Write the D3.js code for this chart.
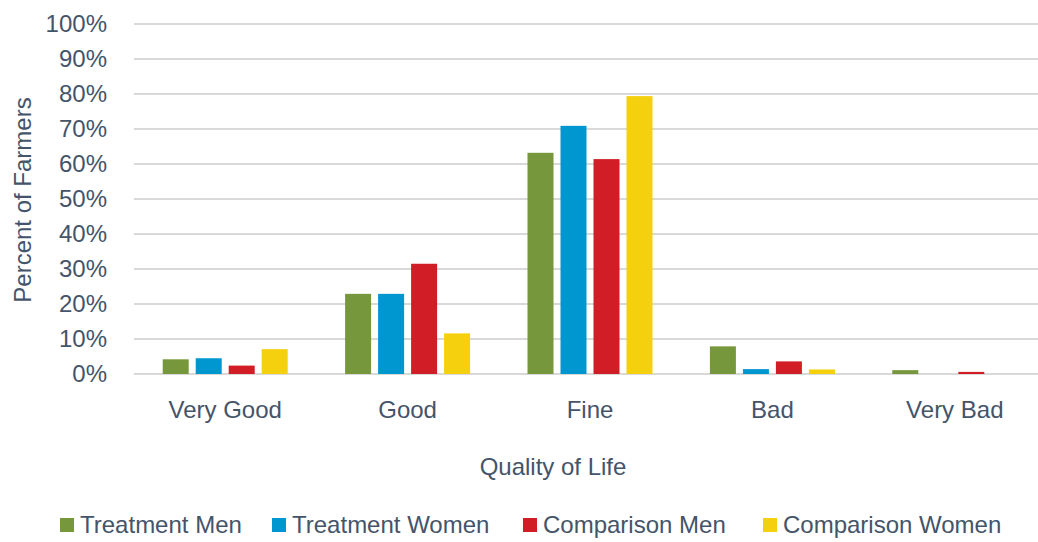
<!DOCTYPE html>
<html><head><meta charset="utf-8">
<script src="https://cdn.jsdelivr.net/npm/d3@7"></script>
<style>
html,body{margin:0;padding:0;background:#fff;}
text{font-family:"Liberation Sans Narrow","Arial Narrow","Liberation Sans",Arial,sans-serif;fill:#44546A;}
</style></head>
<body>
<svg id="chart" width="1038" height="542"></svg>
<script>
const categories = ["Very Good","Good","Fine","Bad","Very Bad"];
const seriesNames = ["Treatment Men","Treatment Women","Comparison Men","Comparison Women"];
const treatmentMen    = [4.2, 22.9, 63.2, 7.9, 1.1];
const treatmentWomen  = [4.5, 22.9, 70.9, 1.4, 0.0];
const comparisonMen   = [2.4, 31.5, 61.4, 3.6, 0.6];
const comparisonWomen = [7.1, 11.6, 79.4, 1.3, 0.0];
const yTicks = [0,10,20,30,40,50,60,70,80,90,100];
const colors = ["#77973D","#0096D0","#D11E26","#F5D00F"];

const seriesValues = [treatmentMen, treatmentWomen, comparisonMen, comparisonWomen];
const svg = d3.select("#chart");
const plotLeft = 134, plotRight = 1046, plotTop = 24, plotBottom = 374;
const FONT = '"Liberation Sans Narrow","Arial Narrow","Liberation Sans",Arial,sans-serif';

const y = d3.scaleLinear().domain([0,100]).range([plotBottom, plotTop]);
const x0 = d3.scaleBand().domain(categories).range([plotLeft, plotRight]).padding(0);
const x1 = d3.scaleBand().domain(seriesNames).range([0, x0.bandwidth()]).paddingInner(0.212).paddingOuter(0.87);
const color = d3.scaleOrdinal().domain(seriesNames).range(colors);

// gridlines
svg.append("g").selectAll("line").data(yTicks).join("line")
  .attr("x1", plotLeft).attr("x2", 1038)
  .attr("y1", d => y(d)).attr("y2", d => y(d))
  .attr("stroke", "#D9D9D9").attr("stroke-width", 2);

// y axis labels
const yAxis = d3.axisLeft(y).tickValues(yTicks).tickFormat(d => d + "%").tickSize(0).tickPadding(0);
const gy = svg.append("g").attr("transform", `translate(${plotLeft - 27},0)`).call(yAxis);
gy.select(".domain").remove();
gy.selectAll("text").style("font-size", "24px").attr("fill", "#44546A").style("font-family", FONT);

// bars
const data = [];
categories.forEach((c, i) => seriesNames.forEach((s, j) => data.push({cat: c, series: s, value: seriesValues[j][i]})));
svg.append("g").selectAll("rect").data(data.filter(d => d.value > 0)).join("rect")
  .attr("x", d => x0(d.cat) + x1(d.series))
  .attr("width", x1.bandwidth())
  .attr("y", d => y(d.value))
  .attr("height", d => y(0) - y(d.value))
  .attr("fill", d => color(d.series));

// x axis labels
const xAxis = d3.axisBottom(x0).tickSize(0).tickPadding(0);
const gx = svg.append("g").attr("transform", `translate(0,${plotBottom + 27})`).call(xAxis);
gx.select(".domain").remove();
gx.selectAll("text").style("font-size", "24px").attr("fill", "#44546A").attr("dy", "0.71em").style("font-family", FONT);

// axis titles
svg.append("text").attr("x", 553).attr("y", 475).attr("text-anchor", "middle")
  .style("font-size", "24px").text("Quality of Life");
svg.append("text").attr("transform", "translate(31,200) rotate(-90)").attr("text-anchor", "middle")
  .style("font-size", "24px").text("Percent of Farmers");

// legend
const legendX = [60, 272, 523, 763];
const lg = svg.append("g").selectAll("g").data(seriesNames).join("g")
  .attr("transform", (d, i) => `translate(${legendX[i]},525)`);
lg.append("rect").attr("x", 0).attr("y", -7).attr("width", 14).attr("height", 14).attr("fill", d => color(d));
lg.append("text").attr("x", 20).attr("y", 0).attr("dy", "0.35em").style("font-size", "24px").text(d => d);
</script>
</body></html>
